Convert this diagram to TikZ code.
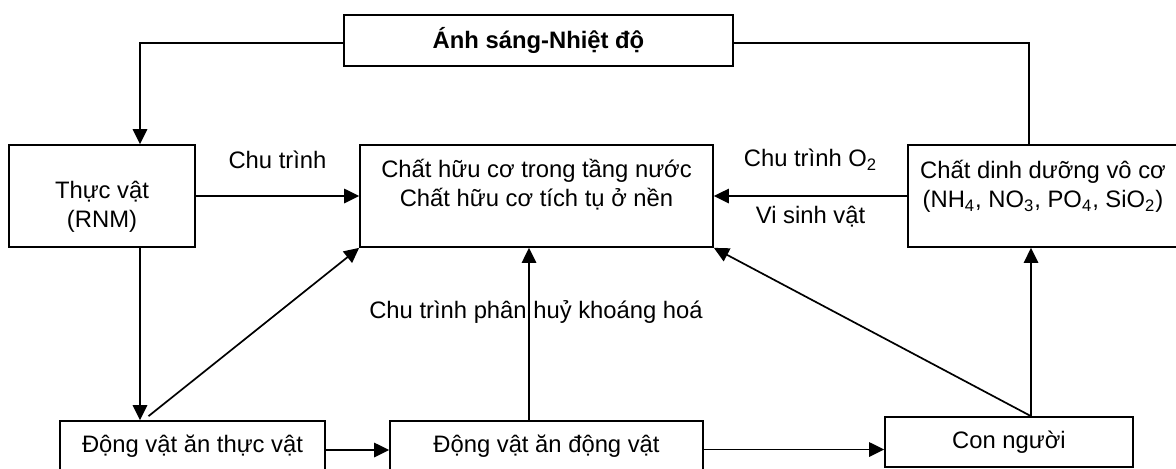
\documentclass[tikz,border=0pt]{standalone}
\usepackage{fontspec}
\setmainfont{Liberation Sans}
\usetikzlibrary{arrows.meta,positioning,calc}

\begin{document}
\begin{tikzpicture}[
  x=0.5pt,y=-0.5pt,
  box/.style={draw,line width=0.85pt,inner xsep=2pt,align=center,
              font=\fontsize{11.9}{14.3}\selectfont},
  arr/.style={-{Triangle[length=7.5pt,width=7.2pt]},line width=0.85pt},
  line/.style={line width=0.85pt},
  lbl/.style={font=\fontsize{11.9}{14.3}\selectfont,inner sep=0pt}
]
  \useasboundingbox (0,0) rectangle (1176,468);

  % Nodes: light on top, plant / organic matter / nutrients in the middle, consumers below
  \node[box,font=\fontsize{11.9}{14.3}\selectfont\bfseries,minimum width=194.5pt,minimum height=25.5pt] (light) at (538.5,40.5) {Ánh sáng-Nhiệt độ};
  \node[box,minimum width=93pt,minimum height=51pt,text height=33pt,text depth=2pt] (plant) at (102,196) {Thực vật\\(RNM)};
  \node[box,minimum width=176.5pt,minimum height=51pt,text height=24pt,text depth=13.6pt] (organic) at (536.5,196) {Chất hữu cơ trong tầng nước\\Chất hữu cơ tích tụ ở nền};
  \node[box,minimum width=135pt,minimum height=51pt,text height=24pt,text depth=12.6pt] (nutr) at (1043,196) {Chất dinh dưỡng vô cơ\\(NH\textsubscript{4}, NO\textsubscript{3}, PO\textsubscript{4}, SiO\textsubscript{2})};
  \node[box,minimum width=132.5pt,minimum height=25.5pt] (herb) at (192.5,446.5) {Động vật ăn thực vật};
  \node[box,minimum width=156.5pt,minimum height=25.5pt] (carn) at (546.5,446.5) {Động vật ăn động vật};
  \node[box,minimum width=124pt,minimum height=25pt] (human) at (1009,442) {Con người};

  % light -> plant (left), light -- nutrients (right, no tip)
  \draw[arr] ([yshift=-1.25pt]light.west) -| ([xshift=19pt]plant.north);
  \draw[line] ([yshift=-1.25pt]light.east) -| ([xshift=-7pt]nutr.north);

  % plant -> organic matter
  \draw[arr] (plant) -- node[lbl,yshift=18pt] (cycle) {Chu trình} (organic);

  % nutrients -> organic matter
  \draw[arr] (nutr) -- node[lbl,yshift=18pt] (oxygen) {Chu trình O\textsubscript{2}}
                       node[lbl,yshift=-10.5pt] (microbe) {Vi sinh vật} (organic);

  % plant -> herbivores -> organic matter
  \draw[arr] ([xshift=19pt]plant.south) -- ([xshift=19pt]plant.south |- herb.north);
  \draw[arr] ([xshift=-22pt,yshift=2pt]herb.north) -- (organic.south west);

  % herbivores -> carnivores -> humans
  \draw[arr] ([yshift=-1.75pt]herb.east) -- ([yshift=-1.75pt]herb.east -| carn.west);
  \draw[arr] ([yshift=-1.5pt]carn.east) -- ([yshift=-1.5pt]carn.east -| human.west);

  % carnivores -> organic matter (decomposition)
  \draw[arr] ([xshift=-8.75pt]carn.north) -- node[lbl,pos=0.63,xshift=3.5pt] (decay) {Chu trình phân huỷ khoáng hoá} ([xshift=-8.75pt]carn.north |- organic.south);

  % humans -> nutrients, humans -> organic matter
  \coordinate (hup) at ([xshift=11pt]human.north);
  \draw[arr] (hup) -- (hup |- nutr.south);
  \draw[arr] (hup) -- (organic.south east);
\end{tikzpicture}
\end{document}
